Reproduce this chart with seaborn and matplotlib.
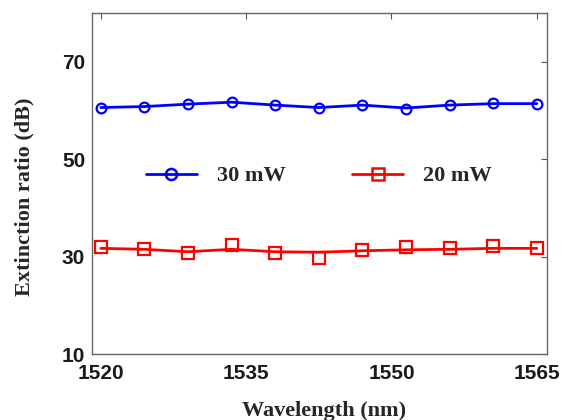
import numpy as np
import pandas as pd
import matplotlib
matplotlib.use("Agg")
import matplotlib.pyplot as plt
from matplotlib.lines import Line2D
import seaborn as sns

# wavelength positions of the measurements (nm)
wavelength = [1520, 1524.5, 1529, 1533.5, 1538, 1542.5, 1547, 1551.5, 1556, 1560.5, 1565]

# measured extinction ratio (dB)
er_30mw = [60.6, 60.7, 61.4, 61.8, 61.1, 60.5, 61.2, 60.2, 61.2, 61.5, 61.4]
er_20mw = [32.0, 31.5, 30.7, 32.4, 30.8, 29.8, 31.3, 32.0, 31.7, 32.2, 31.8]

# smoothed trend lines drawn through the points
fit_30mw = [60.6, 60.8, 61.3, 61.7, 61.1, 60.6, 61.1, 60.5, 61.1, 61.4, 61.4]
fit_20mw = [31.7, 31.5, 31.0, 31.5, 31.0, 30.9, 31.2, 31.4, 31.5, 31.7, 31.7]

series_labels = ["30 mW", "20 mW"]
colors = ["#0000ff", "#ff0000"]
markers = ["o", "s"]

df = pd.DataFrame({"wl": wavelength, "p30": er_30mw, "p20": er_20mw,
                   "f30": fit_30mw, "f20": fit_20mw})

sns.set_style("white")
plt.rcParams["font.family"] = ["Liberation Sans", "DejaVu Sans"]

fig = plt.figure(figsize=(5.62, 4.2), dpi=100)
ax = fig.add_axes([0.164, 0.157, 0.81, 0.812])

for fcol, pcol, c, m, ms in [("f30", "p30", colors[0], markers[0], 7),
                              ("f20", "p20", colors[1], markers[1], 8.5)]:
    sns.lineplot(data=df, x="wl", y=fcol, color=c, linewidth=2.0, ax=ax)
    sns.lineplot(data=df, x="wl", y=pcol, color=c, linestyle="none", marker=m,
                 markersize=ms, markerfacecolor="none", markeredgecolor=c,
                 markeredgewidth=1.6, ax=ax)

ax.set_xlim(1519.1, 1566.1)
ax.set_ylim(10, 80)
ax.set_xticks([1520, 1535, 1550, 1565])
ax.set_yticks([10, 30, 50, 70])
ax.tick_params(direction="in", top=True, right=True, length=4, width=0.8,
               colors="#555555", labelcolor="#1a1a1a", labelsize=15)
ax.tick_params(axis="y", pad=5)
ax.tick_params(axis="x", pad=7)
for lab in ax.get_xticklabels() + ax.get_yticklabels():
    lab.set_fontweight("bold")
for s in ax.spines.values():
    s.set_color("#666666")
    s.set_linewidth(1.0)

serif = {"family": "Liberation Serif", "weight": "bold", "size": 16}
ax.set_xlabel("Wavelength (nm)", fontdict=serif)
ax.set_ylabel("Extinction ratio (dB)", fontdict=serif)
ax.xaxis.set_label_coords(0.51, -0.137)
ax.yaxis.set_label_coords(-0.126, 0.46)

handles = [Line2D([], [], color=colors[i], marker=markers[i], linewidth=2.0,
                  markersize=8, markerfacecolor="none", markeredgewidth=1.8)
           for i in range(2)]
ax.legend(handles, series_labels, loc="center", bbox_to_anchor=(0.498, 0.522),
          ncol=2, frameon=False, handlelength=2.3, columnspacing=3.0,
          handletextpad=0.9,
          prop={"family": "Liberation Serif", "weight": "bold", "size": 16})

fig.savefig("out.png", dpi=100)
